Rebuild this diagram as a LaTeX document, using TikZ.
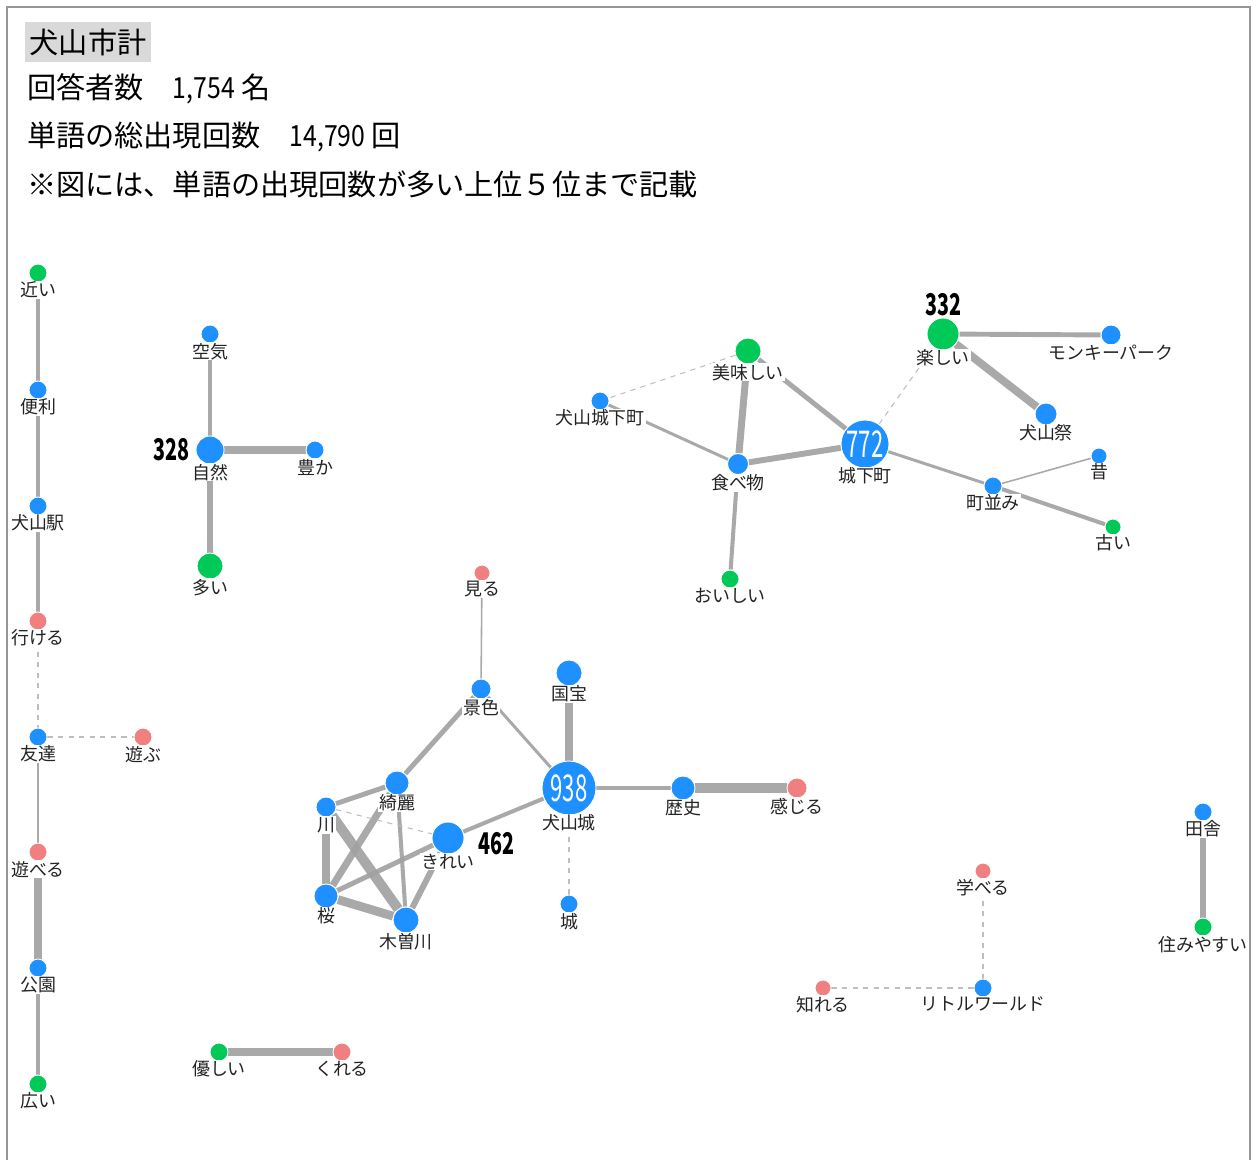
\documentclass[tikz,border=0pt]{standalone}
\usepackage{fontspec}
\setmainfont{Noto Sans CJK JP}
\usepackage{tikz}
\usetikzlibrary{backgrounds}

\definecolor{nblue}{RGB}{30,144,255}
\definecolor{ngreen}{RGB}{0,201,87}
\definecolor{nred}{RGB}{240,128,128}
\definecolor{egray}{RGB}{160,160,160}
\definecolor{dgray}{RGB}{190,190,190}
\definecolor{fgray}{RGB}{150,150,150}
\definecolor{tgray}{RGB}{217,217,217}
\definecolor{lgray}{RGB}{35,35,35}

\newcommand{\cnum}[1]{\scalebox{0.6}[1]{#1}}
\newcommand{\bnum}[1]{\scalebox{0.66}[1]{#1}}
\newcommand{\hnum}[1]{\scalebox{0.85}[1]{#1}}

\begin{document}
\begin{tikzpicture} [x=0.02cm, y=-0.02cm,
    Vtx/.style = {circle, draw=white, line width=0.5pt, inner sep=0, minimum size=#1},
    Vtx/.default = 0.36cm,
    BlueV/.style = {Vtx=#1, fill=nblue},
    BlueV/.default = 0.36cm,
    GreenV/.style = {Vtx=#1, fill=ngreen},
    GreenV/.default = 0.36cm,
    RedV/.style = {Vtx=#1, fill=nred},
    RedV/.default = 0.36cm,
    lab/.style = {font=\fontsize{10.2}{12}\selectfont, text=lgray, fill=white, inner sep=0.5pt, label distance=-1pt},
    numlab/.style = {font=\fontsize{17}{17}\selectfont\bfseries, inner sep=0pt},
    link/.style = {draw=egray, draw opacity=0.9, line width=#1},
    weak/.style = {draw=dgray, dashed, line width=0.6pt},
    head/.style = {anchor=west, font=\fontsize{16.6}{20}\selectfont, inner sep=1pt},
    ]
    \useasboundingbox (0,0) rectangle (1253,1160);
    \draw[fgray, line width=0.6pt] (7,1160) -- (7,7) -- (1250,7) -- (1250,1160);

    % heading
    \node[head, fill=tgray, inner xsep=2.5pt, inner ysep=3.6pt] at (25,42) (title) {犬山市計};
    \node[head] at (25,89) (resp) {回答者数　\hnum{1,754} 名};
    \node[head] at (25,137) (total) {単語の総出現回数　\hnum{14,790} 回};
    \node[head] at (25,184) (note) {※図には、単語の出現回数が多い上位５位まで記載};

    % left column
    \node[GreenV] [label={[lab]below:近い}] at (38,273) (chikai) {};
    \node[BlueV] [label={[lab]below:便利}] at (38,390) (benri) {};
    \node[BlueV] [label={[lab]below:犬山駅}] at (38,506) (eki) {};
    \node[RedV] [label={[lab]below:行ける}] at (38,621) (ikeru) {};
    \node[BlueV] [label={[lab]below:友達}] at (38,737) (tomo) {};
    \node[RedV] [label={[lab]below:遊ぶ}] at (143,737) (asobu) {};
    \node[RedV] [label={[lab]below:遊べる}] at (38,852) (asoberu) {};
    \node[BlueV] [label={[lab]below:公園}] at (38,968) (koen) {};
    \node[GreenV] [label={[lab]below:広い}] at (38,1084) (hiroi) {};

    % shizen
    \node[BlueV] [label={[lab]below:空気}] at (210,334) (kuki) {};
    \node[BlueV=0.56cm] [label={[lab]below:自然}, label={[numlab, label distance=3pt]left:\bnum{328}}] at (210,450) (shizen) {};
    \node[BlueV] [label={[lab]below:豊か}] at (315,450) (yutaka) {};
    \node[GreenV=0.52cm] [label={[lab]below:多い}] at (210,566) (ooi) {};

    % jokamachi
    \node[GreenV=0.52cm] [label={[lab]below:美味しい}] at (748,351) (bimi) {};
    \node[BlueV] [label={[lab]below:犬山城下町}] at (600,401) (inujoka) {};
    \node[BlueV=0.42cm] [label={[lab]below:食べ物}] at (738,464) (tabemono) {};
    \node[BlueV=0.96cm, font=\fontsize{21}{21}\selectfont, text=white] [label={[lab]below:城下町}] at (865,444) (joka) {\cnum{772}};
    \node[GreenV=0.64cm] [label={[lab]below:楽しい}, label={[numlab, label distance=1pt]above:\bnum{332}}] at (943,334) (tanoshii) {};
    \node[BlueV=0.40cm] [label={[lab]below:モンキーパーク}] at (1111,335) (monkey) {};
    \node[BlueV=0.44cm] [label={[lab]below:犬山祭}] at (1046,414) (matsuri) {};
    \node[BlueV] [label={[lab]below:町並み}] at (993,486) (machinami) {};
    \node[BlueV=0.32cm] [label={[lab]below:昔}] at (1099,456) (mukashi) {};
    \node[GreenV=0.32cm] [label={[lab]below:古い}] at (1113,527) (furui) {};
    \node[GreenV] [label={[lab]below:おいしい}] at (730,579) (oishii) {};

    % inuyamajo
    \node[RedV=0.32cm] [label={[lab]below:見る}] at (482,573) (miru) {};
    \node[BlueV=0.40cm] [label={[lab]below:景色}] at (481,689) (keshiki) {};
    \node[BlueV=0.52cm] [label={[lab]below:国宝}] at (569,673) (kokuho) {};
    \node[BlueV=1.08cm, font=\fontsize{21}{21}\selectfont, text=white] [label={[lab]below:犬山城}] at (569,788) (inujo) {\cnum{938}};
    \node[BlueV=0.48cm] [label={[lab]below:歴史}] at (683,788) (rekishi) {};
    \node[RedV=0.40cm] [label={[lab]below:感じる}] at (797,788) (kanjiru) {};
    \node[BlueV] [label={[lab]below:城}] at (569,904) (shiro) {};
    \node[BlueV=0.48cm] [label={[lab]below:綺麗}] at (397,783) (kireiK) {};
    \node[BlueV=0.40cm] [label={[lab]below:川}] at (326,807) (kawa) {};
    \node[BlueV=0.64cm] [label={[lab]below:きれい}, label={[numlab, label distance=8pt, yshift=-3pt]right:\bnum{462}}] at (448,838) (kirei) {};
    \node[BlueV=0.48cm] [label={[lab]below:桜}] at (326,896) (sakura) {};
    \node[BlueV=0.52cm] [label={[lab]below:木曽川}] at (406,920) (kiso) {};

    % others
    \node[GreenV] [label={[lab]below:優しい}] at (219,1052) (yasashii) {};
    \node[RedV] [label={[lab]below:くれる}] at (342,1052) (kureru) {};
    \node[BlueV] [label={[lab]below:田舎}] at (1203,812) (inaka) {};
    \node[GreenV] [label={[lab]below:住みやすい}] at (1203,927) (sumi) {};
    \node[RedV=0.32cm] [label={[lab]below:学べる}] at (983,871) (manaberu) {};
    \node[BlueV] [label={[lab]below:リトルワールド}] at (983,988) (little) {};
    \node[RedV=0.32cm] [label={[lab]below:知れる}] at (823,988) (shireru) {};

\begin{scope}[on background layer]
\path
    (chikai) edge[link=2.3pt] (benri)
    (benri) edge[link=2.8pt] (eki)
    (eki) edge[link=2.8pt] (ikeru)
    (ikeru) edge[weak] (tomo)
    (tomo) edge[weak] (asobu)
    (tomo) edge[link=0.6pt] (asoberu)
    (asoberu) edge[link=4.5pt] (koen)
    (koen) edge[link=2.8pt] (hiroi)
    (kuki) edge[link=2.3pt] (shizen)
    (shizen) edge[link=4.5pt] (yutaka)
    (shizen) edge[link=3.4pt] (ooi)
    (bimi) edge[weak] (inujoka)
    (bimi) edge[link=4pt] (tabemono)
    (bimi) edge[link=2.8pt] (joka)
    (inujoka) edge[link=1.7pt] (tabemono)
    (tabemono) edge[link=3.4pt] (joka)
    (tabemono) edge[link=2.3pt] (oishii)
    (joka) edge[weak] (tanoshii)
    (joka) edge[link=1.7pt] (machinami)
    (tanoshii) edge[link=2.8pt] (monkey)
    (tanoshii) edge[link=4.5pt] (matsuri)
    (machinami) edge[link=0.9pt] (mukashi)
    (machinami) edge[link=2.3pt] (furui)
    (miru) edge[link=0.9pt] (keshiki)
    (keshiki) edge[link=2.8pt] (kireiK)
    (keshiki) edge[link=1.7pt] (inujo)
    (kokuho) edge[link=5pt] (inujo)
    (inujo) edge[link=2.8pt] (rekishi)
    (rekishi) edge[link=5.7pt] (kanjiru)
    (inujo) edge[weak] (shiro)
    (inujo) edge[link=2.3pt] (kirei)
    (kireiK) edge[link=2.8pt] (kawa)
    (kireiK) edge[link=4pt] (sakura)
    (kireiK) edge[link=2.3pt] (kiso)
    (kawa) edge[weak] (kirei)
    (kawa) edge[link=4pt] (sakura)
    (kawa) edge[link=5.7pt] (kiso)
    (sakura) edge[link=2.8pt] (kirei)
    (sakura) edge[link=5pt] (kiso)
    (kirei) edge[link=3.4pt] (kiso)
    (yasashii) edge[link=4.5pt] (kureru)
    (inaka) edge[link=3.4pt] (sumi)
    (manaberu) edge[weak] (little)
    (shireru) edge[weak] (little);
\end{scope}

\end{tikzpicture}
\end{document}
